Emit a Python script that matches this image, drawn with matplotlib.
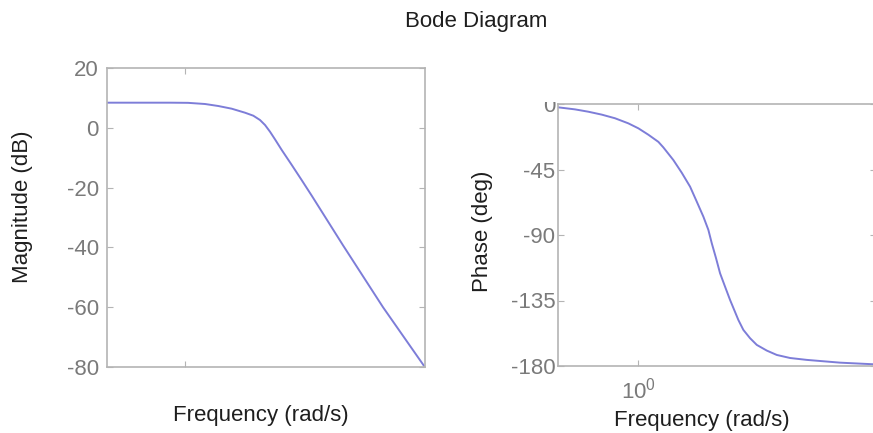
import matplotlib.pyplot as plt
from matplotlib.patches import Rectangle
from matplotlib.ticker import FixedLocator, NullLocator, NullFormatter

plt.rcParams['font.family'] = ['Liberation Sans', 'DejaVu Sans']
plt.rcParams['axes.unicode_minus'] = False

# values
mag_freq = [0.55, 0.764, 0.891, 1.023, 1.166, 1.291, 1.431, 1.585, 1.689,
            1.778, 1.848, 1.920, 1.995, 2.101, 2.268, 2.449, 2.645,
            3.363, 4.571, 6.30]
mag_db = [8.4, 8.4, 8.4, 8.35, 7.96, 7.29, 6.39, 5.05, 4.05,
          2.61, 0.94, -1.30, -3.85, -7.42, -12.4, -17.5, -22.7,
          -39.3, -60.0, -80.0]

phase_freq = [0.5425, 0.6166, 0.6829, 0.7568, 0.8380, 0.9283, 1.0023, 1.0822,
              1.1686, 1.2142, 1.3112, 1.3982, 1.4909, 1.5694, 1.6509, 1.7155,
              1.7610, 1.8197, 1.8766, 1.9498, 2.0260, 2.1598, 2.2439, 2.3622,
              2.4870, 2.6853, 2.8995, 3.2111, 3.6503, 4.7131, 6.0718, 6.3]
phase_deg = [-2.3, -3.7, -5.3, -7.3, -9.8, -13.3, -16.7, -21.1,
             -26.0, -29.8, -38.5, -47.2, -56.8, -67.1, -77.4, -86.5,
             -95.7, -106.0, -116.3, -125.5, -134.6, -148.4, -155.2, -160.9,
             -165.5, -169.4, -172.4, -174.5, -175.8, -177.7, -178.8, -179.0]

mag_ticks = [20, 0, -20, -40, -60, -80]
phase_ticks = [0, -45, -90, -135, -180]

line_color = '#7d7dd8'
spine_color = '#b4b4b4'
tick_color = '#7a7a7a'
label_color = '#1e1e1e'
W, H = 873, 433
FS = 16

fig = plt.figure(figsize=(8.73, 4.33), dpi=100)
fig.patch.set_facecolor('white')


def px_box(x0, y0, x1, y1):
    return [x0 / W, (H - y1) / H, (x1 - x0) / W, (y1 - y0) / H]


def style(ax):
    for s in ax.spines.values():
        s.set_color(spine_color)
        s.set_linewidth(1.2)
    ax.set_xscale('log')
    ax.xaxis.set_minor_locator(NullLocator())
    ax.xaxis.set_minor_formatter(NullFormatter())
    ax.tick_params(direction='in', length=4, width=0.8, color=spine_color,
                   top=True, right=True, labelcolor=tick_color, labelsize=FS)


# magnitude
ax1 = fig.add_axes(px_box(107, 68, 425, 367))
style(ax1)
ax1.plot(mag_freq, mag_db, color=line_color, lw=1.4)
ax1.set_xlim(0.5495, 6.31)
ax1.set_ylim(-80, 20)
ax1.yaxis.set_major_locator(FixedLocator(mag_ticks))
ax1.xaxis.set_major_locator(FixedLocator([1.0]))
ax1.tick_params(axis='x', labelbottom=False)
ax1.tick_params(axis='y', pad=6)
ax1.set_ylabel('Magnitude (dB)', fontsize=FS, color=label_color)
ax1.yaxis.set_label_coords(-0.233, 0.535)
ax1.set_xlabel('Frequency (rad/s)', fontsize=FS, color=label_color)
ax1.xaxis.set_label_coords(0.484, -0.127)

# phase
ax2 = fig.add_axes(px_box(558, 104, 876, 366))
style(ax2)
ax2.plot(phase_freq, phase_deg, color=line_color, lw=1.4)
ax2.set_xlim(0.541, 6.21)
ax2.set_ylim(-180, 0)
ax2.yaxis.set_major_locator(FixedLocator(phase_ticks))
ax2.xaxis.set_major_locator(FixedLocator([1.0]))
ax2.tick_params(axis='y', pad=2)
ax2.tick_params(axis='x', pad=8)
ax2.set_ylabel('Phase (deg)', fontsize=FS, color=label_color)
ax2.yaxis.set_label_coords(-0.204, 0.513)
ax2.set_xlabel('Frequency (rad/s)', fontsize=FS, color=label_color)
ax2.xaxis.set_label_coords(0.453, -0.168)

# top of the "0" label is hidden in the reference
fig.patches.append(Rectangle((515 / W, (H - 102) / H), 41 / W, 14 / H,
                             transform=fig.transFigure, facecolor='white',
                             edgecolor='none', zorder=10))

fig.text(476 / W, 1 - 21 / H, 'Bode Diagram', ha='center', va='center',
         fontsize=FS, color=label_color)

fig.savefig('out.png', dpi=100)
